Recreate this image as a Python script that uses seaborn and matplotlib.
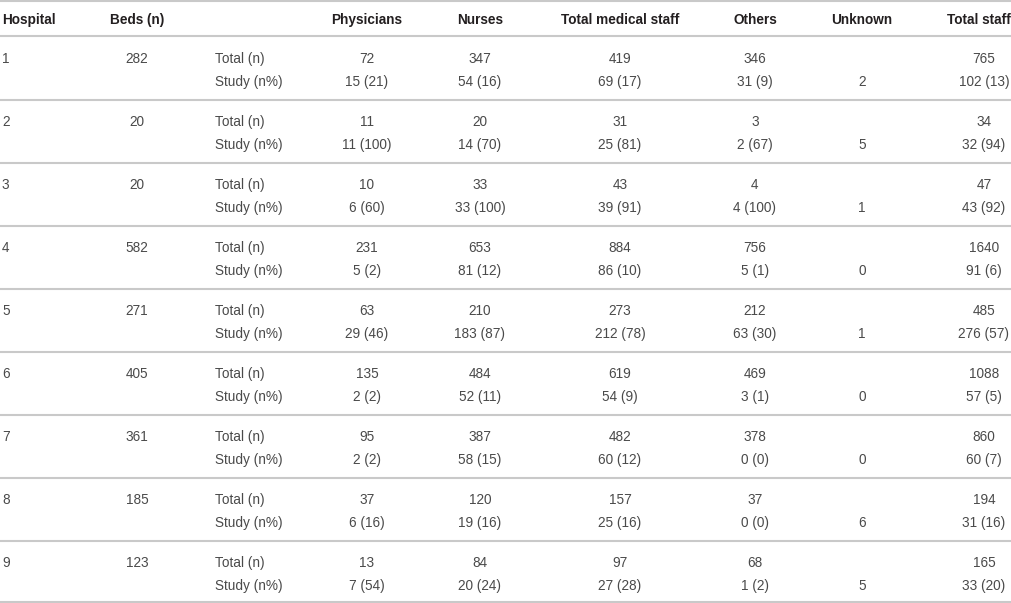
import matplotlib
matplotlib.use("Agg")
import matplotlib.pyplot as plt
import seaborn as sns

# -----------------------------
# Data (read from the reference table)
# -----------------------------
hospitals = [1, 2, 3, 4, 5, 6, 7, 8, 9]
beds = [282, 20, 20, 582, 271, 405, 361, 185, 123]

physicians_total = [72, 11, 10, 231, 63, 135, 95, 37, 13]
physicians_study = [15, 11, 6, 5, 29, 2, 2, 6, 7]
physicians_pct = [21, 100, 60, 2, 46, 2, 2, 16, 54]

nurses_total = [347, 20, 33, 653, 210, 484, 387, 120, 84]
nurses_study = [54, 14, 33, 81, 183, 52, 58, 19, 20]
nurses_pct = [16, 70, 100, 12, 87, 11, 15, 16, 24]

medical_total = [419, 31, 43, 884, 273, 619, 482, 157, 97]
medical_study = [69, 25, 39, 86, 212, 54, 60, 25, 27]
medical_pct = [17, 81, 91, 10, 78, 9, 12, 16, 28]

others_total = [346, 3, 4, 756, 212, 469, 378, 37, 68]
others_study = [31, 2, 4, 5, 63, 3, 0, 0, 1]
others_pct = [9, 67, 100, 1, 30, 1, 0, 0, 2]

unknown = [2, 5, 1, 0, 1, 0, 0, 6, 5]

staff_total = [765, 34, 47, 1640, 485, 1088, 860, 194, 165]
staff_study = [102, 32, 43, 91, 276, 57, 60, 31, 33]
staff_pct = [13, 94, 92, 6, 57, 5, 7, 16, 20]

headers = ["Hospital", "Beds (n)", "", "Physicians", "Nurses",
           "Total medical staff", "Others", "Unknown", "Total staff"]
row_labels = ["Total (n)", "Study (n%)"]

# -----------------------------
# Layout (pixel coordinates of the 1012x603 canvas)
# -----------------------------
sns.set_theme(style="white")
plt.rcParams["font.family"] = ["Liberation Sans", "DejaVu Sans"]

W, H = 1012, 603
FS = 9.8
HEAD_COLOR = "#231f20"
BODY_COLOR = "#4a4a4a"
LINE_COLOR = "#c9c9c9"

col_x = {"Hospital": 2, "Beds (n)": 137, "label": 215, "Physicians": 367,
         "Nurses": 480, "Total medical staff": 620, "Others": 755,
         "Unknown": 862, "Total staff": 984}

fig = plt.figure(figsize=(W / 100, H / 100), dpi=100)
ax = fig.add_axes([0, 0, 1, 1])
ax.set_xlim(0, W)
ax.set_ylim(H, 0)
ax.axis("off")


def put(x, y, s, ha="center", bold=False):
    # y is the text baseline so rows line up regardless of glyphs
    ax.text(x, y, s, ha=ha, va="baseline", fontsize=FS,
            fontweight="bold" if bold else "normal",
            color=HEAD_COLOR if bold else BODY_COLOR)


# header
header_y = 24
for h in headers:
    if not h:
        continue
    if h == "Hospital":
        put(col_x[h], header_y, h, ha="left", bold=True)
    elif h == "Total staff":
        # sits flush against the right edge, as in the source
        put(W - 1, header_y, h, ha="right", bold=True)
    else:
        put(col_x[h], header_y, h, bold=True)

# rules
ax.axhline(1, color=LINE_COLOR, lw=1.5)
ax.axhline(35.5, color=LINE_COLOR, lw=1.5)

block_h = 63
for i, hosp in enumerate(hospitals):
    bottom = 100 + block_h * i
    y_tot = bottom - 37
    y_std = bottom - 14
    put(col_x["Hospital"], y_tot, str(hosp), ha="left")
    put(col_x["Beds (n)"], y_tot, str(beds[i]))
    put(col_x["label"], y_tot, row_labels[0], ha="left")
    put(col_x["label"], y_std, row_labels[1], ha="left")

    groups = [
        ("Physicians", physicians_total, physicians_study, physicians_pct),
        ("Nurses", nurses_total, nurses_study, nurses_pct),
        ("Total medical staff", medical_total, medical_study, medical_pct),
        ("Others", others_total, others_study, others_pct),
        ("Total staff", staff_total, staff_study, staff_pct),
    ]
    for name, tot, std, pct in groups:
        put(col_x[name], y_tot, str(tot[i]))
        put(col_x[name], y_std, f"{std[i]} ({pct[i]})")
    put(col_x["Unknown"], y_std, str(unknown[i]))

    ax.axhline(min(bottom, H - 1), color=LINE_COLOR, lw=1.5)

fig.savefig("out.png", dpi=100, facecolor="white")
plt.close(fig)
